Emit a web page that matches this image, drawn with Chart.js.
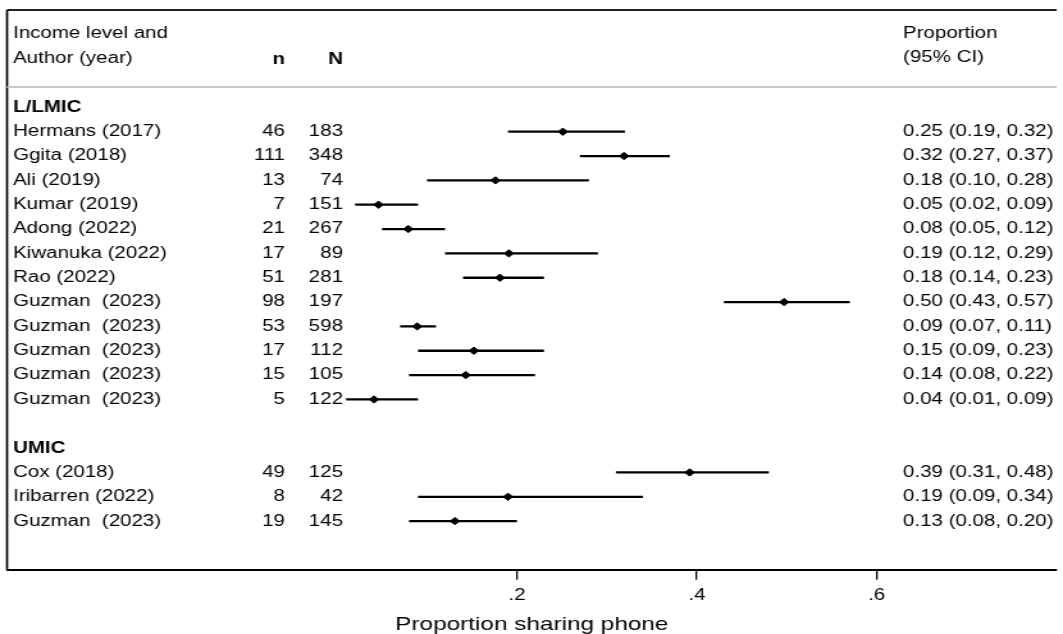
<!DOCTYPE html>
<html>
<head>
<meta charset="utf-8">
<script src="https://cdn.jsdelivr.net/npm/chart.js@4.4.1/dist/chart.umd.min.js"></script>
<style>
  html, body { margin: 0; padding: 0; background: #fff; overflow: hidden; }
  #wrap { width: 830px; height: 634px; transform: scaleX(1.28072); transform-origin: 0 0; }
  #forest { display: block; }
</style>
</head>
<body>
<div id="wrap"><canvas id="forest" width="830" height="634"></canvas></div>
<script>
const groups = ["L/LMIC", "UMIC"];
const groupSizes = [12, 3];

const authors = [
  "Hermans (2017)", "Ggita (2018)", "Ali (2019)", "Kumar (2019)", "Adong (2022)",
  "Kiwanuka (2022)", "Rao (2022)", "Guzman  (2023)", "Guzman  (2023)", "Guzman  (2023)",
  "Guzman  (2023)", "Guzman  (2023)",
  "Cox (2018)", "Iribarren (2022)", "Guzman  (2023)",
];
const nValues = [46, 111, 13, 7, 21, 17, 51, 98, 53, 17, 15, 5, 49, 8, 19];
const NValues = [183, 348, 74, 151, 267, 89, 281, 197, 598, 112, 105, 122, 125, 42, 145];
const estimates = [0.251, 0.319, 0.176, 0.046, 0.079, 0.191, 0.181, 0.497, 0.089, 0.152, 0.143, 0.041, 0.392, 0.190, 0.131];
const ciLow = [0.19, 0.27, 0.10, 0.02, 0.05, 0.12, 0.14, 0.43, 0.07, 0.09, 0.08, 0.01, 0.31, 0.09, 0.08];
const ciHigh = [0.32, 0.37, 0.28, 0.09, 0.12, 0.29, 0.23, 0.57, 0.11, 0.23, 0.22, 0.09, 0.48, 0.34, 0.20];
const xTicks = [0.2, 0.4, 0.6];

// the original is a horizontally stretched export, so draw narrow and stretch it with css
const FONT = '"Liberation Sans", Arial, sans-serif';

// which row of the table each line goes on
const studyRows = [];
const groupRows = [];
let row = 0;
groups.forEach((g, gi) => {
  groupRows.push(row);
  row++;
  for (let i = 0; i < groupSizes[gi]; i++) {
    studyRows.push(row);
    row++;
  }
  row++; // empty line after each group
});

const fmt = (v) => v.toFixed(2);

const ciLines = authors.map((a, i) => ({
  data: [{ x: ciLow[i], y: studyRows[i] }, { x: ciHigh[i], y: studyRows[i] }],
  showLine: true,
  borderColor: "#000",
  borderWidth: 2.3,
  pointRadius: 0,
  order: 2,
}));

const points = {
  data: estimates.map((e, i) => ({ x: e, y: studyRows[i] })),
  pointStyle: "rectRot",
  pointRadius: 3.7,
  backgroundColor: "#000",
  borderColor: "#000",
  borderWidth: 1,
  order: 1,
};

const tablePlugin = {
  id: "forestTable",
  afterDraw(chart) {
    const ctx = chart.ctx;
    const y = chart.scales.y;
    const area = chart.chartArea;
    const colText = 10.2;
    const colN1 = 222.5;
    const colN2 = 267.8;
    const colRight = 705.1;

    ctx.save();
    // frame
    ctx.strokeStyle = "#222";
    ctx.lineWidth = 2;
    ctx.beginPath();
    ctx.moveTo(area.left, area.top);
    ctx.lineTo(area.right, area.top);
    ctx.stroke();
    ctx.strokeStyle = "#000";
    ctx.lineWidth = 1.7;
    ctx.beginPath();
    ctx.moveTo(area.left, area.top);
    ctx.lineTo(area.left, area.bottom);
    ctx.stroke();
    // header separator
    ctx.strokeStyle = "#c8c8c8";
    ctx.lineWidth = 2;
    const sepY = y.getPixelForValue(-0.84);
    ctx.beginPath();
    ctx.moveTo(area.left, sepY);
    ctx.lineTo(area.right, sepY);
    ctx.stroke();

    ctx.fillStyle = "#000";
    ctx.textBaseline = "middle";
    const txt = (s, x, v, align, bold) => {
      ctx.font = (bold ? "bold " : "") + "16px " + FONT;
      ctx.textAlign = align;
      ctx.fillText(s, x, y.getPixelForValue(v));
    };

    txt("Income level and", colText, -3.05, "left");
    txt("Author (year)", colText, -2.0, "left");
    txt("n", colN1, -1.95, "right", true);
    txt("N", colN2, -1.95, "right", true);
    txt("Proportion", colRight, -3.05, "left");
    txt("(95% CI)", colRight, -2.05, "left");

    groups.forEach((g, gi) => txt(g, colText, groupRows[gi], "left", true));
    authors.forEach((a, i) => {
      const r = studyRows[i];
      txt(a, colText, r, "left");
      txt(String(nValues[i]), colN1, r, "right");
      txt(String(NValues[i]), colN2, r, "right");
      txt(fmt(estimates[i]) + " (" + fmt(ciLow[i]) + ", " + fmt(ciHigh[i]) + ")", colRight, r, "left");
    });
    ctx.restore();
  },
};

new Chart(document.getElementById("forest"), {
  type: "scatter",
  data: { datasets: [...ciLines, points] },
  options: {
    responsive: false,
    devicePixelRatio: 1,
    animation: false,
    layout: { padding: { top: 10, left: 5.5, right: 0, bottom: 0 } },
    plugins: { legend: { display: false }, tooltip: { enabled: false } },
    scales: {
      y: { type: "linear", display: false, reverse: true, min: -4, max: 19 },
      x: {
        type: "linear",
        min: -0.367,
        max: 0.8,
        afterBuildTicks: (scale) => {
          scale.ticks = xTicks.map((v) => ({ value: v }));
        },
        grid: {
          drawOnChartArea: false,
          drawTicks: true,
          tickLength: 10,
          tickColor: "#000",
          lineWidth: 1.3,
        },
        border: { display: true, color: "#000", width: 2 },
        ticks: {
          autoSkip: false,
          maxRotation: 0,
          padding: 6,
          color: "#000",
          font: { family: FONT, size: 16, lineHeight: 1.2 },
          callback: (v) => String(v).replace(/^0/, ""),
        },
        title: {
          display: true,
          text: "Proportion sharing phone",
          color: "#000",
          font: { family: FONT, size: 19, lineHeight: 1.0 },
          padding: { top: 4, bottom: 0 },
        },
      },
    },
  },
  plugins: [tablePlugin],
});
</script>
</body>
</html>
